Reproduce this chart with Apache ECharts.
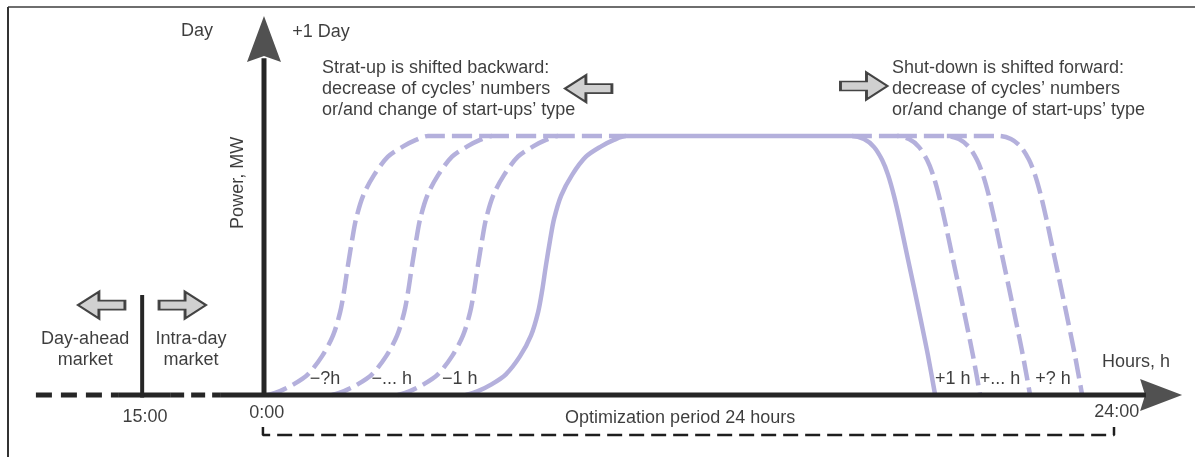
<!DOCTYPE html>
<html><head><meta charset="utf-8">
<script src="https://cdn.jsdelivr.net/npm/echarts@6/dist/echarts.min.js"></script>
<style>html,body{margin:0;padding:0;background:#fff}#c{width:1195px;height:457px}</style>
</head><body><div id="c"></div>
<script>
// ---------- data (hours on x, relative power on y) ----------
const startPower = [0, 0.015, 0.04, 0.08, 0.15, 0.23, 0.32, 0.40, 0.50, 0.60, 0.68, 0.77, 0.85, 0.92, 0.96, 0.985, 1];
const startHoursA = [0.11, 0.45, 0.82, 1.24, 1.64, 1.95, 2.15, 2.26, 2.37, 2.49, 2.60, 2.80, 3.11, 3.50, 3.93, 4.29, 4.63];
const startHoursB = [1.92, 2.26, 2.63, 3.05, 3.45, 3.76, 3.96, 4.07, 4.18, 4.30, 4.41, 4.61, 4.92, 5.31, 5.74, 6.10, 6.44];
const startHoursC = [3.78, 4.12, 4.49, 4.91, 5.31, 5.62, 5.82, 5.93, 6.04, 6.16, 6.27, 6.47, 6.78, 7.17, 7.60, 7.96, 8.30];
const startHoursSolid = [5.70, 6.04, 6.41, 6.83, 7.23, 7.54, 7.74, 7.85, 7.96, 8.08, 8.19, 8.39, 8.70, 9.09, 9.52, 9.88, 10.22];
const startPlateauEnd = [6.44, 8.30, 10.22];

const shutPower = [1, 0.988, 0.958, 0.908, 0.85, 0.768, 0.668, 0.545, 0.417, 0.286, 0.151, 0];
const shutHoursSolid = [16.60, 16.94, 17.22, 17.45, 17.62, 17.79, 17.96, 18.15, 18.35, 18.55, 18.75, 18.95];
const shutHoursA = [17.87, 18.21, 18.49, 18.72, 18.89, 19.06, 19.23, 19.42, 19.62, 19.82, 20.02, 20.22];
const shutHoursB = [19.28, 19.62, 19.90, 20.13, 20.30, 20.47, 20.64, 20.83, 21.03, 21.23, 21.43, 21.63];
const shutHoursC = [20.75, 21.09, 21.37, 21.60, 21.77, 21.94, 22.11, 22.30, 22.50, 22.70, 22.90, 23.10];
const shutPlateauStart = [16.60, 17.87, 19.28];

const curveLabels = ['\u2212?h', '\u2212... h', '\u22121 h', '+1 h', '+... h', '+? h'];
const curveLabelHours = [1.72, 3.61, 5.53, 19.45, 20.78, 22.28];
const curveLabelPower = 0.06;

// time line: dashed / solid breaks (hours), axis extents
const timelineBreaks = [-6.44, -4.12, -2.65, -1.24, 24.9];
const powerAxisTop = 1.30;
const marketLineHour = -3.44;
const marketLineTop = 0.386;
const bracketHours = [-0.03, 24];
const bracketLevels = [-0.124, -0.154];

const tickTexts = ['15:00', '0:00', '24:00'];
const tickHours = [-3.36, 0.08, 24.08];
const tickPower = [-0.085, -0.069, -0.066];

const startText = 'Strat-up is shifted backward:\ndecrease of cycles\u2019 numbers\nor/and change of start-ups\u2019 type';
const shutText = 'Shut-down is shifted forward:\ndecrease of cycles\u2019 numbers\nor/and change of start-ups\u2019 type';

// ---------- build ----------
const zip = (xs, ys) => xs.map((x, i) => [x, ys[i]]);
const PURPLE = '#b4b0dc';
const DARK = '#262626';
const FONT = '"Liberation Sans", Arial, sans-serif';
const DASH = [20, 7];

function curve(data, dashed) {
  return {
    type: 'line', data, showSymbol: false, symbol: 'none', clip: false, silent: true,
    smooth: 0.3, z: 2,
    lineStyle: { color: PURPLE, width: 4.5, type: dashed ? DASH : 'solid', cap: 'butt', join: 'round' }
  };
}
function seg(data, type, width, color) {
  return {
    type: 'line', data, showSymbol: false, symbol: 'none', clip: false, silent: true, z: 3,
    lineStyle: { color: color || DARK, width: width || 5, type: type || 'solid', cap: 'butt' }
  };
}

const series = [];
[startHoursA, startHoursB, startHoursC].forEach((hs, i) => {
  series.push(curve(zip(hs, startPower).concat([[startPlateauEnd[i], 1]]), true));
});
[shutHoursA, shutHoursB, shutHoursC].forEach((hs, i) => {
  series.push(curve([[shutPlateauStart[i], 1]].concat(zip(hs, shutPower)), true));
});
series.push(curve(zip(startHoursSolid, startPower).concat(zip(shutHoursSolid, shutPower)), false));

// time axis
series.push(seg([[timelineBreaks[0], 0], [timelineBreaks[1], 0]], [16, 9]));
series.push(seg([[timelineBreaks[1], 0], [timelineBreaks[2], 0]]));
series.push(seg([[timelineBreaks[2], 0], [timelineBreaks[3], 0]], [14, 7]));
series.push(seg([[timelineBreaks[3], 0], [timelineBreaks[4], 0]]));
// power axis
series.push(seg([[0, 0], [0, powerAxisTop]]));
// 15:00 market line
series.push(seg([[marketLineHour, -0.01], [marketLineHour, marketLineTop]], 'solid', 4));
// optimisation period bracket
series.push(seg([[bracketHours[0], bracketLevels[0]], [bracketHours[0], bracketLevels[1]],
                 [bracketHours[1], bracketLevels[1]], [bracketHours[1], bracketLevels[0]]], [15, 7], 2.5, '#1e1e1e'));

// arrowheads of axes
series.push({
  type: 'scatter', silent: true, clip: false, z: 4,
  itemStyle: { color: DARK },
  data: [
    { value: [0, 1.375], symbol: 'path://M17,0 L34,46 L17,40 L0,46 Z', symbolSize: [34, 46] },
    { value: [25.33, 0], symbol: 'path://M0,0 L42,16 L0,32 L5,16 Z', symbolSize: [42, 32] }
  ]
});
// block arrows
const RIGHT = 'path://M0,9 L26,9 L26,0 L47,13.5 L26,27 L26,18 L0,18 Z';
const LEFT = 'path://M47,9 L21,9 L21,0 L0,13.5 L21,27 L21,18 L47,18 Z';
series.push({
  type: 'scatter', silent: true, clip: false, z: 4,
  itemStyle: { color: '#c4c4c4', borderColor: '#1a1a1a', borderWidth: 2.2 },
  data: [
    { value: [9.16, 1.183], symbol: LEFT, symbolSize: [47, 27] },
    { value: [16.94, 1.193], symbol: RIGHT, symbolSize: [47, 27] },
    { value: [-4.59, 0.347], symbol: LEFT, symbolSize: [47, 27] },
    { value: [-2.30, 0.347], symbol: RIGHT, symbolSize: [47, 27] }
  ]
});

// texts
const notes = [
  { value: [-1.89, 1.405], t: 'Day' },
  { value: [1.61, 1.402], t: '+1 Day' },
  { value: [-0.73, 0.819], t: 'Power, MW', rotate: 90 },
  { value: [1.64, 1.182], t: startText, align: 'left' },
  { value: [17.73, 1.182], t: shutText, align: 'left' },
  { value: [-5.05, 0.176], t: 'Day-ahead\nmarket' },
  { value: [-2.06, 0.176], t: 'Intra-day\nmarket' },
  { value: [11.75, -0.089], t: 'Optimization period 24 hours' },
  { value: [24.62, 0.127], t: 'Hours, h' }
];
tickTexts.forEach((t, i) => notes.push({ value: [tickHours[i], tickPower[i]], t }));
curveLabels.forEach((t, i) => notes.push({ value: [curveLabelHours[i], curveLabelPower], t }));

series.push({
  type: 'scatter', silent: true, clip: false, z: 5, symbolSize: 0,
  data: notes.map(n => ({
    value: n.value,
    label: {
      show: true, position: 'inside', formatter: n.t,
      rotate: n.rotate || 0, align: n.align || 'center', verticalAlign: 'middle',
      color: '#0d0d0d', fontFamily: FONT, fontSize: 18, lineHeight: 21,
      textBorderWidth: 0
    }
  }))
});

const chart = echarts.init(document.getElementById('c'), null, { renderer: 'canvas' });
chart.setOption({
  animation: false,
  backgroundColor: '#fff',
  grid: { left: 0, right: 0, top: 0, bottom: 0 },
  xAxis: { type: 'value', min: -7.454, max: 26.287, show: false },
  yAxis: { type: 'value', min: -0.2394, max: 1.5251, show: false },
  graphic: [
    { type: 'line', shape: { x1: 8, y1: 7, x2: 1195, y2: 7 }, style: { stroke: '#6e6e6e', lineWidth: 2 } },
    { type: 'line', shape: { x1: 8, y1: 7, x2: 8, y2: 457 }, style: { stroke: '#333', lineWidth: 2 } }
  ],
  series
});
</script></body></html>
